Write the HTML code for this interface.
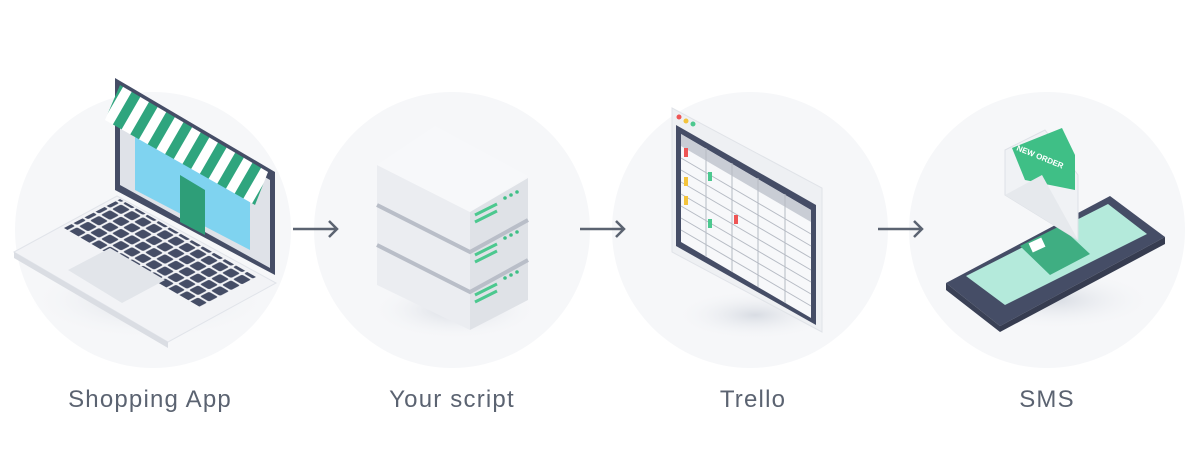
<!DOCTYPE html>
<html><head><style>
html,body{margin:0;padding:0;background:#fff;}
body{width:1200px;height:468px;overflow:hidden;position:relative;font-family:"Liberation Sans",sans-serif;}
.l{position:absolute;top:386px;font-size:24px;color:#5b6371;letter-spacing:1.2px;transform:translateX(-50%);white-space:nowrap;}
</style></head><body>
<svg width="1200" height="468" viewBox="0 0 1200 468" style="position:absolute;left:0;top:0">
<defs>
<pattern id="aw" patternUnits="userSpaceOnUse" width="20" height="20" patternTransform="rotate(30)">
<rect width="10" height="20" fill="#2fa57e"/><rect x="10" width="10" height="20" fill="#fff"/>
</pattern>
<pattern id="kb" patternUnits="userSpaceOnUse" width="11" height="11" patternTransform="matrix(1,0.58,-1,0.52,0,0)">
<rect width="11" height="11" fill="#f2f3f6"/><rect x="1" y="1" width="9" height="9" rx="1.5" fill="#454d66"/>
</pattern>
<radialGradient id="sh"><stop offset="0" stop-color="#d8dce3"/><stop offset="1" stop-color="#f6f7f9" stop-opacity="0"/></radialGradient>
</defs>
<g fill="#f6f7f9">
<circle cx="153" cy="230" r="138"/><circle cx="452" cy="230" r="138"/>
<circle cx="750" cy="230" r="138"/><circle cx="1047" cy="230" r="138"/>
</g>
<g stroke="#5b6371" stroke-width="2.5" fill="none">
<path d="M293 229H337M329 221L337 229L329 237"/>
<path d="M580 229H624M616 221L624 229L616 237"/>
<path d="M878 229H922M914 221L922 229L914 237"/>
</g>
<!-- laptop -->
<ellipse cx="150" cy="300" rx="120" ry="40" fill="url(#sh)"/>
<polygon points="115,78 275,172 275,275 115,190" fill="#454d66"/>
<polygon points="120,92 270,180 270,268 120,185" fill="#dfe2e8"/>
<polygon points="135,130 250,197 250,250 135,190" fill="#7fd3f0"/>
<polygon points="180,175 205,190 205,235 180,222" fill="#2e9e78"/>
<polygon points="105,120 120,85 268,172 255,205" fill="url(#aw)"/>
<polygon points="14,252 117,196 276,283 168,342" fill="#f2f3f6" stroke="#e1e4ea"/>
<polygon points="14,252 168,342 168,348 14,258" fill="#dadde3"/>
<polygon points="64,228 120,199 256,277 200,307" fill="url(#kb)"/>
<polygon points="68,270 110,248 165,280 122,303" fill="#e2e5ea"/>
<!-- server -->
<ellipse cx="455" cy="310" rx="85" ry="30" fill="url(#sh)"/>
<polygon points="377,165 470,212 470,330 377,285" fill="#ebedf1"/>
<polygon points="470,212 528,178 528,300 470,330" fill="#dfe2e7"/>
<polygon points="435,126 528,176 470,212 377,165" fill="#f7f8fa"/>
<path d="M377,205 L470,252 L528,220 M377,245 L470,292 L528,260" stroke="#b9bec8" stroke-width="4" fill="none"/>
<g stroke="#4cc88f" stroke-width="3">
<path d="M475,215 L497,204 M475,222 L497,211"/>
<path d="M475,255 L497,244 M475,262 L497,251"/>
<path d="M475,295 L497,284 M475,302 L497,291"/>
</g>
<g fill="#3fbf86"><circle cx="505" cy="198" r="1.8"/><circle cx="511" cy="195" r="1.8"/><circle cx="517" cy="192" r="1.8"/>
<circle cx="505" cy="238" r="1.8"/><circle cx="511" cy="235" r="1.8"/><circle cx="517" cy="232" r="1.8"/>
<circle cx="505" cy="278" r="1.8"/><circle cx="511" cy="275" r="1.8"/><circle cx="517" cy="272" r="1.8"/></g>
<!-- trello -->
<ellipse cx="755" cy="315" rx="80" ry="25" fill="url(#sh)"/>
<polygon points="672,108 822,188 822,332 672,252" fill="#eef0f3" stroke="#e0e3e8"/>
<polygon points="676,125 816,205 816,325 676,246" fill="#454d66"/>
<polygon points="681,134 811,210 811,318 681,242" fill="#f7f8fa"/>
<polygon points="681,134 811,210 811,222 681,146" fill="#c9cdd5"/>
<g stroke="#b6bbc4" stroke-width="1">
<path d="M681,158 L811,234 M681,170 L811,246 M681,182 L811,258 M681,194 L811,270 M681,206 L811,282 M681,218 L811,294 M681,230 L811,306"/>
<path d="M706,148 V257 M732,163 V272 M758,178 V287 M785,194 V303"/>
</g>
<circle cx="679" cy="117" r="2.5" fill="#ee5555"/><circle cx="686" cy="121" r="2.5" fill="#f3c33c"/><circle cx="693" cy="124" r="2.5" fill="#4cc88f"/>
<rect x="684" y="148" width="4" height="9" fill="#ee5555"/><rect x="684" y="177" width="4" height="9" fill="#f3c33c"/>
<rect x="684" y="196" width="4" height="9" fill="#f3c33c"/><rect x="708" y="172" width="4" height="9" fill="#4cc88f"/>
<rect x="708" y="219" width="4" height="9" fill="#4cc88f"/><rect x="734" y="215" width="4" height="9" fill="#ee5555"/>
<!-- phone -->
<ellipse cx="1055" cy="300" rx="100" ry="30" fill="url(#sh)"/>
<polygon points="946,283 1110,196 1165,237 1000,326" fill="#454d66"/>
<polygon points="946,283 1000,326 1000,332 946,290" fill="#3a4156"/>
<polygon points="1000,326 1165,237 1165,244 1000,332" fill="#363c50"/>
<polygon points="966,276 1108,204 1147,234 1005,305" fill="#b4eadb"/>
<polygon points="1020,246 1060,226 1090,254 1050,275" fill="#3fae82"/>
<rect x="1030" y="240" width="14" height="10" fill="#fff" transform="rotate(-25 1037 245)"/>
<polygon points="1005,150 1045,130 1078,175 1078,240 1005,195" fill="#f0f2f5" stroke="#dde0e6"/>
<polygon points="1012,148 1062,128 1075,155 1075,190 1025,180" fill="#3fbf86"/>
<text x="1016" y="150" font-size="8" font-weight="bold" fill="#fff" transform="rotate(22 1016 150)">NEW ORDER</text>
<polygon points="1005,195 1042,175 1078,240" fill="#e6e9ed"/>
</svg>
<div class="l" style="left:150px">Shopping App</div>
<div class="l" style="left:452px">Your script</div>
<div class="l" style="left:753px">Trello</div>
<div class="l" style="left:1047px">SMS</div>
</body></html>
